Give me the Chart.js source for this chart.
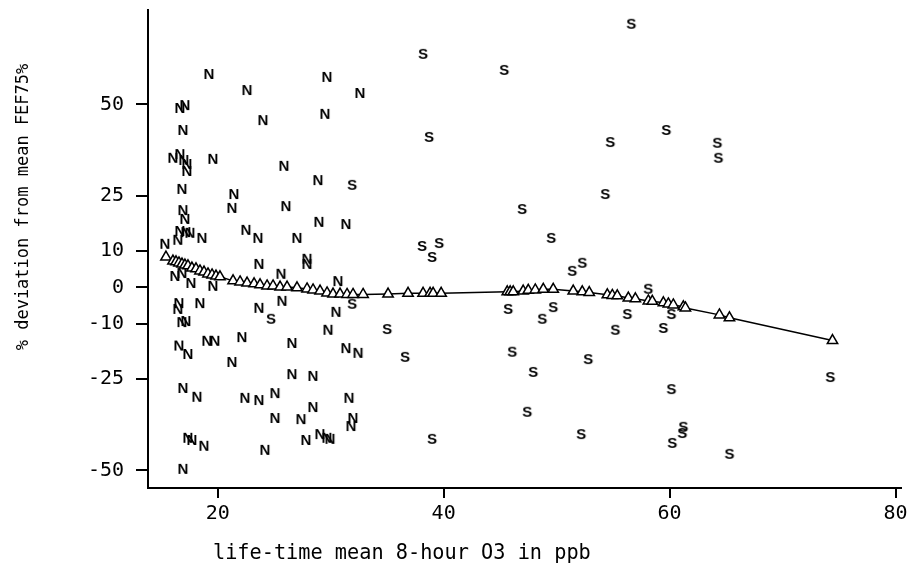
<!DOCTYPE html>
<html>
<head>
<meta charset="utf-8">
<script src="https://cdn.jsdelivr.net/npm/chart.js@4.4.1/dist/chart.umd.min.js"></script>
<style>
  body { margin: 0; background: #fff; }
  canvas { display: block; }
</style>
</head>
<body>
<canvas id="o3Chart" width="908" height="570"></canvas>
<script>
// N points
const nX = [19.23, 22.60, 29.68, 32.60, 16.66, 17.10, 24.01, 29.50, 16.93, 16.04,
  16.66, 17.01, 17.28, 17.28, 19.58, 25.87, 28.88, 16.84, 21.44, 21.27,
  26.05, 16.93, 17.10, 28.97, 31.36, 16.66, 17.19, 17.55, 18.61, 22.51,
  23.57, 27.02, 15.33, 16.48, 23.66, 27.91, 27.91, 25.61, 16.22, 16.84,
  17.64, 19.58, 30.65, 16.57, 18.43, 16.48, 23.66, 25.70, 30.48, 16.84,
  17.19, 29.77, 16.57, 17.37, 19.05, 19.76, 22.15, 21.27, 26.58, 31.36,
  32.43, 16.93, 18.17, 26.58, 28.44, 22.42, 23.66, 25.08, 31.63, 25.08,
  27.38, 28.44, 31.98, 31.81, 17.37, 17.72, 18.79, 24.19, 27.82, 29.06,
  29.68, 29.95, 16.93];
const nY = [58.6, 54.2, 57.8, 53.4, 49.3, 50.1, 46.0, 47.7, 43.3, 35.7,
  36.7, 35.1, 34.0, 32.1, 35.4, 33.5, 29.6, 27.2, 25.8, 22.0,
  22.5, 21.4, 19.0, 18.2, 17.6, 15.7, 15.4, 15.2, 13.8, 16.0,
  13.8, 13.8, 12.2, 13.3, 6.7, 8.1, 6.7, 4.0, 3.4, 4.2,
  1.5, 0.7, 2.0, -4.0, -4.0, -5.6, -5.3, -3.4, -6.4, -9.2,
  -8.9, -11.3, -15.6, -17.9, -14.3, -14.3, -13.3, -20.1, -14.9, -16.3,
  -17.6, -27.2, -29.6, -23.4, -23.9, -29.9, -30.5, -28.6, -29.9, -35.4,
  -35.7, -32.4, -35.4, -37.6, -40.8, -41.4, -43.0, -44.1, -41.4, -39.8,
  -40.8, -41.1, -49.3];

// S points
const sX = [56.61, 38.18, 45.36, 38.71, 54.75, 54.31, 46.95, 49.52, 38.09, 39.60,
  38.98, 51.38, 52.27, 45.71, 49.70, 48.73, 58.11, 56.26, 55.20, 35.00,
  36.59, 46.07, 47.93, 52.80, 47.40, 52.18, 38.98, 59.71, 64.23, 64.32,
  60.16, 59.45, 74.23, 60.16, 61.22, 61.13, 60.24, 65.30, 31.90, 24.72,
  31.90];
const sY = [72.3, 64.1, 59.7, 41.4, 40.0, 25.8, 21.7, 13.8, 11.6, 12.4,
  8.6, 4.8, 7.0, -5.6, -5.1, -8.3, -0.1, -7.0, -11.3, -11.1,
  -18.7, -17.3, -22.8, -19.3, -33.7, -39.8, -41.1, 43.3, 39.8, 35.7,
  -7.0, -10.8, -24.2, -27.5, -37.8, -39.5, -42.2, -45.2, 28.3, -8.3,
  -4.2];

// smoothed fit (triangles)
const fitX = [15.42, 16.04, 16.31, 16.57, 16.84, 17.10, 17.37, 17.72, 18.08, 18.43,
  18.79, 19.14, 19.50, 19.85, 20.20, 21.36, 21.98, 22.60, 23.22, 23.75,
  24.37, 24.90, 25.52, 26.14, 27.02, 27.91, 28.44, 29.06, 29.68, 30.21,
  30.83, 31.45, 31.98, 32.87, 35.08, 36.85, 38.18, 38.80, 39.07, 39.78,
  45.63, 45.89, 46.16, 47.04, 47.49, 48.11, 48.82, 49.70, 51.47, 52.27,
  52.89, 54.49, 54.93, 55.37, 56.35, 56.97, 58.12, 58.47, 59.45, 59.89,
  60.33, 61.22, 61.40, 64.41, 65.30, 74.42];
const fitY = [8.3, 7.2, 7.0, 6.7, 6.4, 6.1, 5.9, 5.3, 5.1, 4.5,
  4.2, 3.7, 3.4, 3.1, 2.9, 1.8, 1.5, 1.2, 1.0, 0.7,
  0.4, 0.4, 0.1, 0.1, -0.1, -0.4, -0.7, -1.0, -1.5, -1.8,
  -1.8, -1.9, -1.9, -1.9, -1.8, -1.6, -1.6, -1.6, -1.6, -1.6,
  -1.2, -1.2, -1.2, -1.0, -0.8, -0.7, -0.5, -0.5, -1.0, -1.2,
  -1.4, -2.0, -2.2, -2.3, -2.9, -3.1, -3.7, -3.8, -4.2, -4.5,
  -4.8, -5.3, -5.6, -7.5, -8.3, -14.5];

const xTicks = [20, 40, 60, 80];
const yTicks = [50, 25, 10, 0, -10, -25, -50];

const xTitle = "life-time mean 8-hour O3 in ppb";
const yTitle = "% deviation from mean FEF75%";

function letterMarker(ch) {
  const c = document.createElement("canvas");
  c.width = 16;
  c.height = 16;
  const g = c.getContext("2d");
  g.fillStyle = "#000";
  g.font = 'bold 15px "Liberation Sans"';
  g.textAlign = "center";
  g.textBaseline = "alphabetic";
  g.fillText(ch, 8, 13.5);
  return c;
}

const toPoints = (xs, ys) => xs.map((x, i) => ({ x: x, y: ys[i] }));

const axisTitles = {
  id: "axisTitles",
  afterDraw(chart) {
    const ctx = chart.ctx;
    const area = chart.chartArea;
    ctx.save();
    ctx.fillStyle = "#000";
    ctx.font = '22px "DejaVu Sans Mono"';
    ctx.textAlign = "left";
    ctx.textBaseline = "alphabetic";
    ctx.translate(area.left + 65, 559);
    ctx.scale(0.92, 1);
    ctx.fillText(xTitle, 0, 0);
    ctx.restore();

    ctx.save();
    ctx.fillStyle = "#000";
    ctx.font = '17px "DejaVu Sans Mono"';
    ctx.textAlign = "center";
    ctx.translate(28, 207);
    ctx.rotate(-Math.PI / 2);
    ctx.fillText(yTitle, 0, 0);
    ctx.restore();
  }
};

const tickFont = { family: '"DejaVu Sans Mono"', size: 20 };

new Chart("o3Chart", {
  type: "scatter",
  data: {
    datasets: [{
      label: "fit",
      data: toPoints(fitX, fitY),
      showLine: true,
      borderColor: "#000",
      borderWidth: 1.5,
      pointStyle: "triangle",
      pointRadius: 6,
      pointBorderWidth: 1.5,
      pointBackgroundColor: "#fff",
      pointBorderColor: "#000"
    }, {
      label: "N",
      data: toPoints(nX, nY),
      pointStyle: letterMarker("N")
    }, {
      label: "S",
      data: toPoints(sX, sY),
      pointStyle: letterMarker("S")
    }]
  },
  options: {
    responsive: false,
    animation: false,
    layout: { padding: { top: 10, right: 3, left: 0, bottom: 0 } },
    plugins: {
      legend: { display: false },
      tooltip: { enabled: false }
    },
    scales: {
      x: {
        type: "linear",
        min: 13.83,
        max: 80.44,
        afterBuildTicks: s => { s.ticks = xTicks.map(v => ({ value: v })); },
        afterFit: s => { s.height = 82; s.paddingLeft = 0; s.paddingRight = 0; },
        grid: { drawOnChartArea: false, tickLength: 10, color: "#000", lineWidth: 2 },
        border: { color: "#000", width: 2 },
        ticks: { color: "#000", font: tickFont, padding: 4, autoSkip: false, maxRotation: 0, callback: v => String(v) }
      },
      y: {
        type: "linear",
        min: -54.8,
        max: 75.8,
        afterBuildTicks: s => { s.ticks = yTicks.map(v => ({ value: v })); },
        afterFit: s => { s.width = 148; s.paddingTop = 0; s.paddingBottom = 0; },
        grid: { drawOnChartArea: false, tickLength: 12, color: "#000", lineWidth: 2 },
        border: { color: "#000", width: 2 },
        ticks: { color: "#000", font: tickFont, padding: 12, autoSkip: false, callback: v => String(v) }
      }
    }
  },
  plugins: [axisTitles]
});
</script>
</body>
</html>
